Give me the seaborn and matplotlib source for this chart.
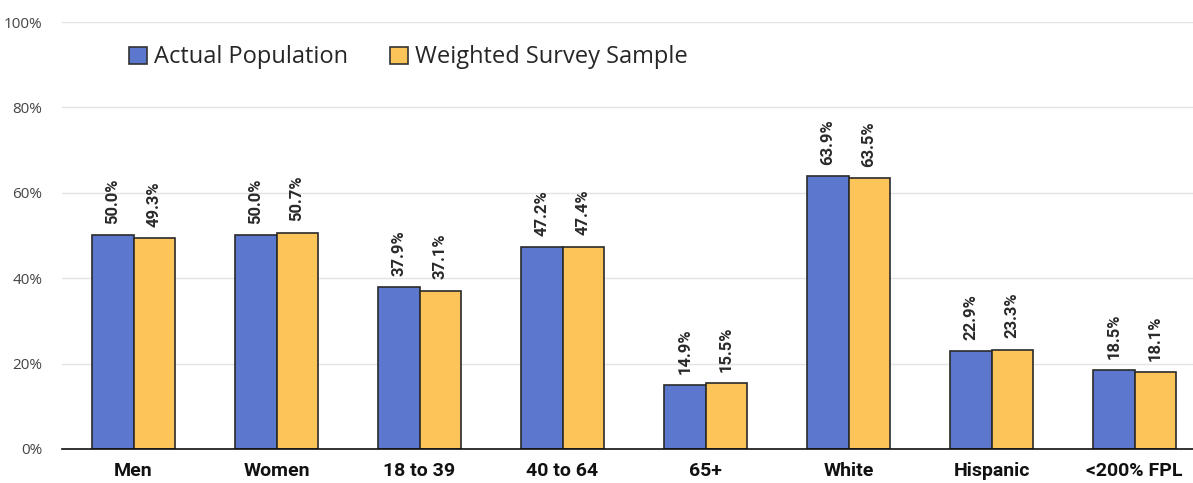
import matplotlib
matplotlib.use("Agg")
import matplotlib.pyplot as plt
import seaborn as sns
import pandas as pd
from matplotlib.patches import Patch

categories = ["Men", "Women", "18 to 39", "40 to 64", "65+", "White", "Hispanic", "<200% FPL"]
actual_population = [50.0, 50.0, 37.9, 47.2, 14.9, 63.9, 22.9, 18.5]
weighted_sample = [49.3, 50.7, 37.1, 47.4, 15.5, 63.5, 23.3, 18.1]
series_names = ["Actual Population", "Weighted Survey Sample"]
y_ticks = [0, 20, 40, 60, 80, 100]

colors = ["#5B78CE", "#FDC45A"]
bold_family = ["Roboto", "DejaVu Sans"]

df = pd.DataFrame({
    "category": categories * 2,
    "series": [series_names[0]] * len(categories) + [series_names[1]] * len(categories),
    "value": actual_population + weighted_sample,
})

sns.set_theme(style="white")
plt.rcParams["font.family"] = ["Open Sans", "DejaVu Sans"]

fig = plt.figure(figsize=(11.93, 4.83), dpi=100)
ax = fig.add_axes([62 / 1193, 1 - 449 / 483, 1144 / 1193, 427 / 483])

sns.barplot(data=df, x="category", y="value", hue="series", order=categories,
            hue_order=series_names, palette=colors, width=0.574, gap=0,
            edgecolor="#2a2a2a", linewidth=1.2, saturation=1, ax=ax, legend=False)

for container in ax.containers:
    ax.bar_label(container, labels=[f"{v:.1f}%" for v in container.datavalues],
                 rotation=90, padding=8, fontsize=12, fontweight="bold",
                 color="#2a2a2a", family=bold_family)

ax.set_ylim(0, 100)
ax.set_xlim(-0.5, len(categories) - 0.5)
ax.set_yticks(y_ticks)
ax.set_yticklabels([f"{t}%" for t in y_ticks], fontsize=11, color="#444444")
ax.yaxis.grid(True, color="#e3e3e3", linewidth=1)
ax.set_axisbelow(True)
ax.tick_params(axis="x", labelsize=14, pad=9, length=0)
ax.tick_params(axis="y", length=0, pad=14)
for lbl in ax.get_xticklabels():
    lbl.set_fontweight("bold")
    lbl.set_family(bold_family)
    lbl.set_color("#111111")
ax.set_xlabel("")
ax.set_ylabel("")
for side in ["top", "right", "left"]:
    ax.spines[side].set_visible(False)
ax.spines["bottom"].set_color("#111111")
ax.spines["bottom"].set_linewidth(1.2)

handles = [Patch(facecolor=c, edgecolor="#333333", linewidth=1.2) for c in colors]
ax.legend(handles, series_names, loc="upper left", bbox_to_anchor=(0.04, 0.995),
          ncol=2, frameon=False, fontsize=17, handlelength=0.75, handleheight=0.75,
          handletextpad=0.3, columnspacing=1.8)

fig.savefig("out.png", dpi=100)
